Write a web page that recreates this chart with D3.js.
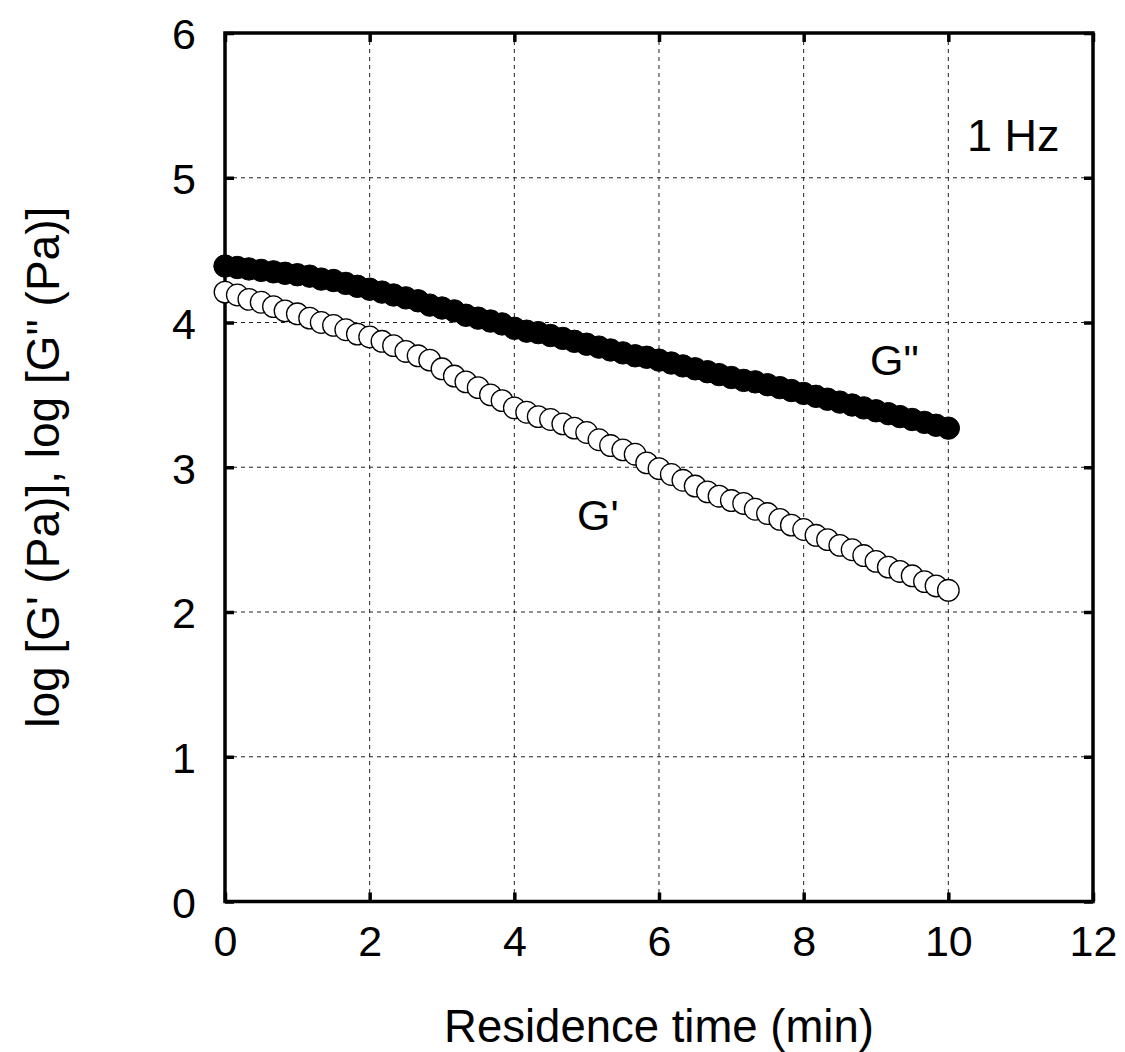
<!DOCTYPE html>
<html>
<head>
<meta charset="utf-8">
<script src="https://cdn.jsdelivr.net/npm/d3@7"></script>
<style>
  html, body { margin: 0; padding: 0; background: #fff; }
  svg { display: block; font-family: "Liberation Sans", Arial, sans-serif; }
</style>
</head>
<body>
<svg id="chart" width="1125" height="1052"></svg>
<script>
// ---- data ----
const timeMin = [0,0.17,0.33,0.5,0.67,0.83,1,1.17,1.33,1.5,1.67,1.83,2,2.17,2.33,2.5,2.67,2.83,3,3.17,3.33,3.5,3.67,3.83,4,4.17,4.33,4.5,4.67,4.83,5,5.17,5.33,5.5,5.67,5.83,6,6.17,6.33,6.5,6.67,6.83,7,7.17,7.33,7.5,7.67,7.83,8,8.17,8.33,8.5,8.67,8.83,9,9.17,9.33,9.5,9.67,9.83,10];
const logGpp = [4.39,4.38,4.37,4.36,4.35,4.34,4.33,4.32,4.30,4.29,4.27,4.25,4.23,4.21,4.19,4.17,4.15,4.12,4.10,4.08,4.05,4.03,4.01,3.99,3.96,3.94,3.93,3.91,3.89,3.87,3.85,3.83,3.81,3.79,3.77,3.76,3.74,3.72,3.70,3.68,3.66,3.64,3.62,3.60,3.59,3.57,3.55,3.53,3.51,3.49,3.47,3.45,3.43,3.41,3.39,3.37,3.35,3.33,3.31,3.29,3.27];
const logGp = [4.21,4.19,4.16,4.14,4.11,4.08,4.06,4.03,4.00,3.98,3.95,3.92,3.90,3.87,3.84,3.80,3.77,3.74,3.68,3.63,3.59,3.55,3.50,3.46,3.41,3.38,3.35,3.33,3.30,3.27,3.24,3.19,3.15,3.12,3.09,3.03,2.99,2.95,2.91,2.87,2.83,2.80,2.77,2.75,2.71,2.68,2.64,2.60,2.57,2.53,2.50,2.46,2.43,2.39,2.35,2.31,2.28,2.25,2.21,2.18,2.15];
const xTicks = [0,2,4,6,8,10,12];
const yTicks = [0,1,2,3,4,5,6];
const xTitle = "Residence time (min)";
const yTitle = "log [G' (Pa)], log [G\" (Pa)]";
const freqLabel = "1 Hz";
const labelGpp = 'G"';
const labelGp = "G'";

// ---- layout ----
const L = 225, R = 1093, T = 33, B = 901.5;
const svg = d3.select("#chart");
const x = d3.scaleLinear().domain([0, 12]).range([L, R]);
const y = d3.scaleLinear().domain([0, 6]).range([B, T]);
const fmt = d3.format("d");

// grid
const grid = svg.append("g").attr("class", "grid");
grid.selectAll("line.gx").data(xTicks.filter(d => d > 0 && d < 12)).join("line")
  .attr("x1", d => x(d)).attr("x2", d => x(d)).attr("y1", T).attr("y2", B)
  .attr("stroke", "#222").attr("stroke-width", 1).attr("stroke-dasharray", "4,4");
grid.selectAll("line.gy").data(yTicks.filter(d => d > 0 && d < 6)).join("line")
  .attr("y1", d => y(d)).attr("y2", d => y(d)).attr("x1", L).attr("x2", R)
  .attr("stroke", "#222").attr("stroke-width", 1).attr("stroke-dasharray", "4,4");

// axes (inner ticks on all four sides)
function styleAxis(g) {
  g.select(".domain").remove();
  g.selectAll(".tick line").attr("stroke", "#000").attr("stroke-width", 3.5);
  g.selectAll(".tick text").attr("fill", "#000");
}
const ax = svg.append("g").attr("transform", `translate(0,${B})`)
  .call(d3.axisBottom(x).tickValues(xTicks).tickFormat(fmt).tickSizeInner(-9).tickSizeOuter(0).tickPadding(23.5))
  .call(styleAxis);
ax.selectAll(".tick text").attr("font-size", 43).attr("font-family", "Liberation Sans, Arial, sans-serif");

const ay = svg.append("g").attr("transform", `translate(${L},0)`)
  .call(d3.axisLeft(y).tickValues(yTicks).tickFormat(fmt).tickSizeInner(-9).tickSizeOuter(0).tickPadding(29))
  .call(styleAxis);
ay.selectAll(".tick text").attr("font-size", 43).attr("dy", "0.37em").attr("font-family", "Liberation Sans, Arial, sans-serif");

svg.append("g").attr("transform", `translate(0,${T})`)
  .call(d3.axisTop(x).tickValues(xTicks).tickSizeInner(-9).tickSizeOuter(0).tickFormat(""))
  .call(styleAxis);
svg.append("g").attr("transform", `translate(${R},0)`)
  .call(d3.axisRight(y).tickValues(yTicks).tickSizeInner(-9).tickSizeOuter(0).tickFormat(""))
  .call(styleAxis);

// frame
svg.append("rect").attr("x", L).attr("y", T).attr("width", R - L).attr("height", B - T)
  .attr("fill", "none").attr("stroke", "#000").attr("stroke-width", 3.5);

// data
const rows = timeMin.map((t, i) => ({ t, gpp: logGpp[i], gp: logGp[i] }));
svg.append("g").selectAll("circle").data(rows).join("circle")
  .attr("cx", d => x(d.t)).attr("cy", d => y(d.gpp)).attr("r", 11.2)
  .attr("fill", "#000").attr("stroke", "#000").attr("stroke-width", 1);
svg.append("g").selectAll("circle").data(rows).join("circle")
  .attr("cx", d => x(d.t)).attr("cy", d => y(d.gp)).attr("r", 10.8)
  .attr("fill", "#fff").attr("stroke", "#000").attr("stroke-width", 1.3);

// annotations
svg.append("text").attr("x", 967).attr("y", 151).attr("font-size", 45).text(freqLabel);
svg.append("text").attr("x", 870).attr("y", 375).attr("font-size", 43).text(labelGpp);
svg.append("text").attr("x", 577).attr("y", 530).attr("font-size", 43).text(labelGp);

// titles
svg.append("text").attr("x", (L + R) / 2).attr("y", 1042).attr("text-anchor", "middle")
  .attr("font-size", 45.5).text(xTitle);
svg.append("text").attr("transform", `translate(59,${(T + B) / 2}) rotate(-90)`)
  .attr("text-anchor", "middle").attr("font-size", 46).text(yTitle);
</script>
</body>
</html>
